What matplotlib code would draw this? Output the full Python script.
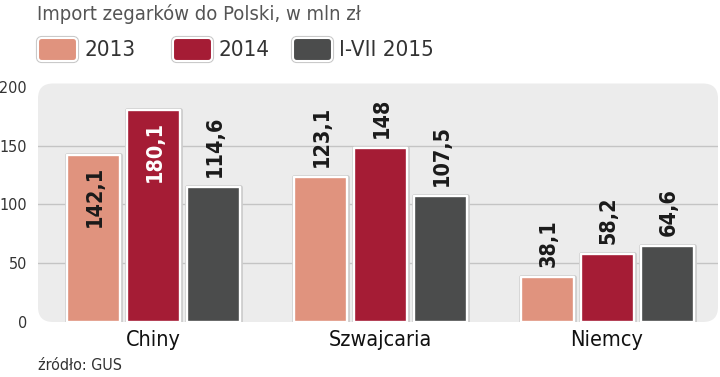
import matplotlib
matplotlib.use("Agg")
import matplotlib.pyplot as plt
from matplotlib.patches import FancyBboxPatch
import matplotlib.patheffects as pe
import numpy as np

categories = ["Chiny", "Szwajcaria", "Niemcy"]
series_names = ["2013", "2014", "I-VII 2015"]
v2013 = [142.1, 123.1, 38.1]
v2014 = [180.1, 148.0, 58.2]
v2015 = [114.6, 107.5, 64.6]
labels2013 = ["142,1", "123,1", "38,1"]
labels2014 = ["180,1", "148", "58,2"]
labels2015 = ["114,6", "107,5", "64,6"]
yticks = [0, 50, 100, 150, 200]
title = "Import zegarków do Polski, w mln zł"
source = "źródło: GUS"

colors = ["#e0937e", "#a51c35", "#4b4c4c"]
inside = [[True, False, False], [True, False, False], [False, False, False]]
inside_color = ["#1a1a1a", "white", "white"]

plt.rcParams['font.family'] = ['DejaVu Sans']
cond = dict(family=['DejaVu Sans'], fontstretch='condensed')

fig = plt.figure(figsize=(7.2, 3.77), dpi=100)
fig.patch.set_facecolor("white")

# background panel
bg = FancyBboxPatch((0.38, 0.55), 6.80, 2.385, boxstyle="round,pad=0,rounding_size=0.15",
                    transform=fig.dpi_scale_trans, facecolor="#ececec", edgecolor="none", zorder=-5)
fig.patches.append(bg)

ax = fig.add_axes([38/720, (377-322)/377, 680/720, (322-85)/377])
ax.patch.set_visible(False)
x = np.arange(len(categories))
w = 53/227
off = 60/227
ax.set_xlim((38-153)/227, (718-153)/227)
ax.set_ylim(0, 201.5)
for s in ax.spines.values():
    s.set_visible(False)
ax.set_yticks(yticks)
ax.set_yticklabels([str(t) for t in yticks], fontsize=11.5, color="#333333", **cond)
ax.yaxis.grid(True, color="#c4c4c4", linewidth=1)
ax.set_axisbelow(True)
ax.tick_params(axis="y", length=0, pad=8)
ax.set_xticks(x)
ax.set_xticklabels(categories, fontsize=15.5, color="#111111", **cond)
ax.tick_params(axis="x", length=0, pad=6)
for gl, t in zip(ax.yaxis.get_gridlines(), yticks):
    if t in (0, 200):
        gl.set_visible(False)

allvals = [v2013, v2014, v2015]
alllabels = [labels2013, labels2014, labels2015]
shadow = [pe.Stroke(linewidth=3.4, foreground="#cbcbcb", joinstyle="round"), pe.Normal()]
for i, (vals, labs) in enumerate(zip(allvals, alllabels)):
    bars = ax.bar(x + (i-1)*off, vals, w, color=colors[i], edgecolor="white",
                  linewidth=1.7, zorder=3, label=series_names[i], joinstyle="round")
    for b in bars:
        b.set_path_effects(shadow)
    for j, (b, lab) in enumerate(zip(bars, labs)):
        cx = b.get_x() + b.get_width()/2
        top = b.get_height()
        if inside[i][j]:
            ax.annotate(lab, (cx, top), xytext=(1, -8), textcoords="offset points",
                        rotation=90, ha="center", va="top", fontsize=15.5, fontweight="bold",
                        color=inside_color[i], zorder=4, **cond)
        else:
            ax.annotate(lab, (cx, top), xytext=(1, 7), textcoords="offset points",
                        rotation=90, ha="center", va="bottom", fontsize=15.5, fontweight="bold",
                        color="#1a1a1a", zorder=4, **cond)

# title
fig.text(37/720, 1 - 14/377, title, fontsize=14.5, color="#555555", va="center", ha="left", **cond)
# legend
lx = [38, 173, 293]
for i, name in enumerate(series_names):
    p = FancyBboxPatch((lx[i]/100, (377-61)/100), 0.39, 0.23,
                       boxstyle="round,pad=0,rounding_size=0.04",
                       transform=fig.dpi_scale_trans, facecolor=colors[i],
                       edgecolor="white", linewidth=1.5, zorder=2)
    p.set_path_effects([pe.Stroke(linewidth=3, foreground="#c8c8c8"), pe.Normal()])
    fig.patches.append(p)
    fig.text((lx[i]+46)/720, 1 - 49.5/377, name, fontsize=16, color="#333333",
             va="center", ha="left", **cond)
# source
fig.text(38/720, 1 - 366/377, source, fontsize=11.5, color="#333333", va="center", ha="left", **cond)

fig.savefig("out.png", dpi=100)
